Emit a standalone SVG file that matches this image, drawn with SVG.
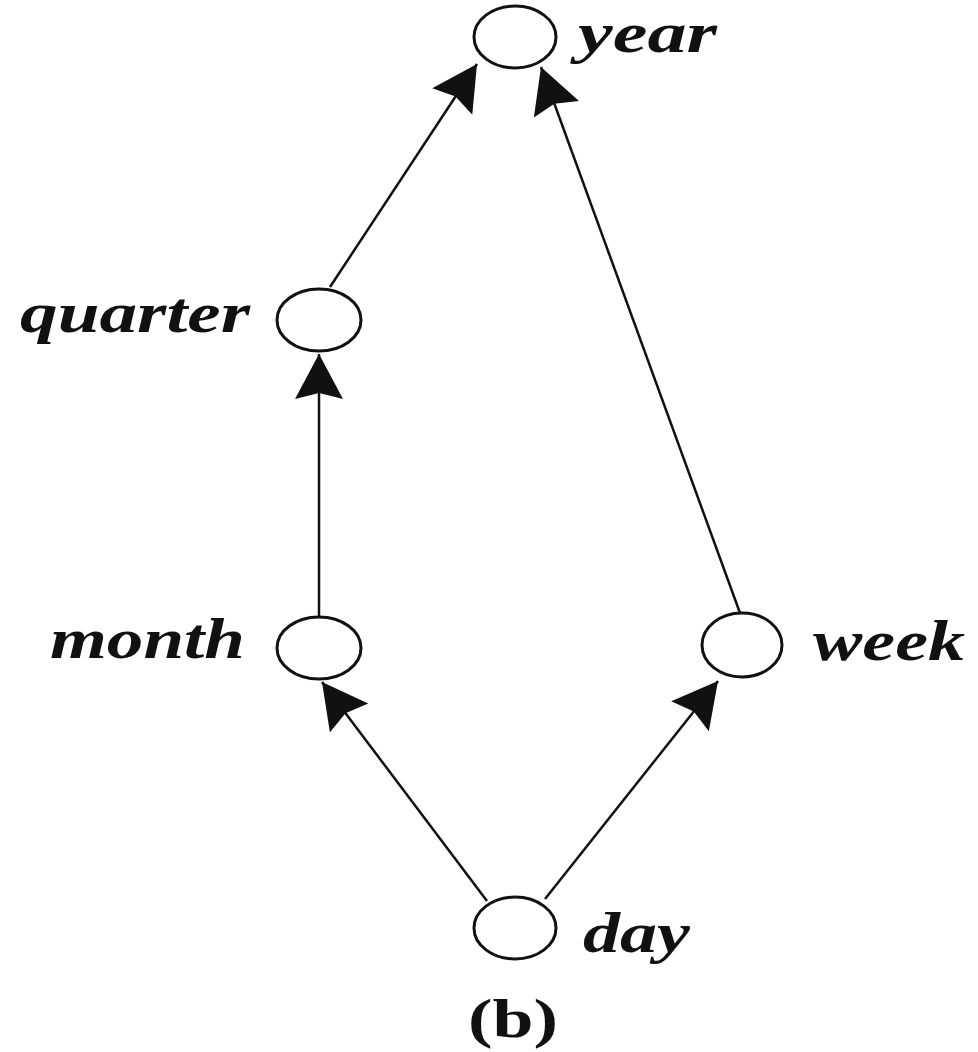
<svg xmlns="http://www.w3.org/2000/svg" width="978" height="1052" viewBox="0 0 978 1052">
<style>
.n{fill:#fff;stroke:#111;stroke-width:3}
.l{font-family:"Liberation Serif",serif;font-weight:bold;font-style:italic;font-size:58px;fill:#111}
.e{stroke:#111;stroke-width:2.5;fill:none;marker-end:url(#a)}
</style>
<defs>
<marker id="a" markerUnits="userSpaceOnUse" markerWidth="50" markerHeight="50" refX="45" refY="24" orient="auto">
<path d="M0,0 L45,24 L0,48 L6,24 Z" fill="#111"/>
</marker>
</defs>
<rect width="978" height="1052" fill="#fff"/>
<g id="connectors">
<line class="e" x1="330" y1="287" x2="477" y2="64"/>
<line class="e" x1="740" y1="613" x2="541" y2="67"/>
<line class="e" x1="319" y1="617" x2="319" y2="354"/>
<line class="e" x1="487" y1="901" x2="322" y2="682"/>
<line class="e" x1="545" y1="899" x2="718" y2="681"/>
</g>
<g id="year"><ellipse class="n" cx="515" cy="37" rx="41" ry="31"/><text class="l" x="578" y="52" textLength="139" lengthAdjust="spacingAndGlyphs">year</text></g>
<g id="quarter"><ellipse class="n" cx="319" cy="320" rx="42" ry="31"/><text class="l" x="20" y="332" textLength="230" lengthAdjust="spacingAndGlyphs">quarter</text></g>
<g id="month"><ellipse class="n" cx="319" cy="648" rx="42" ry="31"/><text class="l" x="50" y="658" textLength="195" lengthAdjust="spacingAndGlyphs">month</text></g>
<g id="week"><ellipse class="n" cx="742" cy="645" rx="40" ry="32"/><text class="l" x="813" y="660" textLength="152" lengthAdjust="spacingAndGlyphs">week</text></g>
<g id="day"><ellipse class="n" cx="515" cy="928" rx="41" ry="31"/><text class="l" x="583" y="952" textLength="107" lengthAdjust="spacingAndGlyphs">day</text></g>
<text x="468" y="1037" font-family="Liberation Serif,serif" font-weight="bold" font-size="54" fill="#111" textLength="90" lengthAdjust="spacingAndGlyphs">(b)</text>
</svg>
